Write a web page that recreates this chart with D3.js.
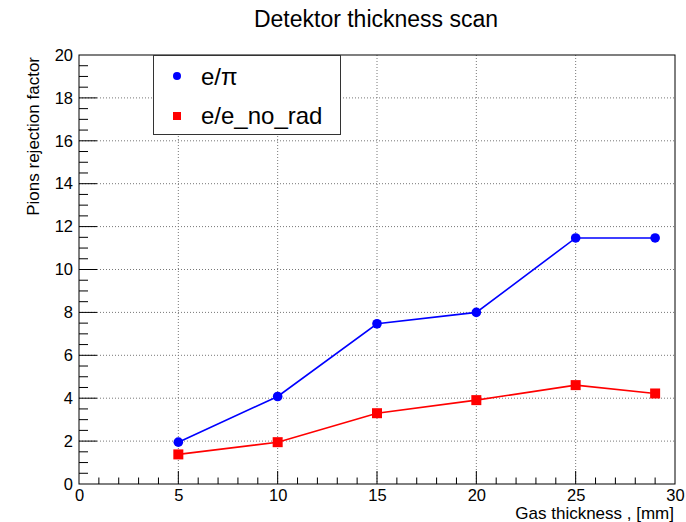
<!DOCTYPE html>
<html><head><meta charset="utf-8">
<script src="https://cdn.jsdelivr.net/npm/d3@7"></script>
<style>body{margin:0;background:#fff}svg{display:block}text{font-family:"Liberation Sans",Arial,sans-serif}</style>
</head><body>
<script>
const thickness = [5, 10, 15, 20, 25, 29];
const ePi = [1.95, 4.08, 7.47, 8.0, 11.47, 11.47];
const eNoRad = [1.38, 1.95, 3.3, 3.91, 4.61, 4.22];
const xTicks = [0, 5, 10, 15, 20, 25, 30];
const yTicks = [0, 2, 4, 6, 8, 10, 12, 14, 16, 18, 20];
const legendLabels = ["e/\u03c0", "e/e_no_rad"];

const W = 686, H = 522;
const m = {l: 79, r: 675, t: 55, b: 484};
const svg = d3.select("body").append("svg").attr("width", W).attr("height", H);
const x = d3.scaleLinear().domain([0, 30]).range([m.l, m.r]);
const y = d3.scaleLinear().domain([0, 20]).range([m.b, m.t]);

// grid
const g = svg.append("g");
g.selectAll(".gx").data(xTicks.slice(1, -1)).join("line")
  .attr("x1", d => x(d)).attr("x2", d => x(d)).attr("y1", m.t).attr("y2", m.b)
  .attr("stroke", "#777").attr("stroke-width", 1).attr("stroke-dasharray", "1,2");
g.selectAll(".gy").data(yTicks.slice(1, -1)).join("line")
  .attr("y1", d => y(d)).attr("y2", d => y(d)).attr("x1", m.l).attr("x2", m.r)
  .attr("stroke", "#777").attr("stroke-width", 1).attr("stroke-dasharray", "1,2");

// axes with ticks inside
const xMinor = d3.range(1, 30);
const yMinor = d3.range(0.5, 20, 0.5);
const ax = svg.append("g").attr("transform", `translate(0,${m.b})`)
  .call(d3.axisBottom(x).tickValues(xTicks).tickSize(0).tickPadding(5).tickFormat(d3.format("d")));
ax.select(".domain").remove();
ax.selectAll("text").attr("font-size", 16.5).attr("fill", "#000").attr("dy", "0.75em");
svg.append("g").selectAll("line").data(xMinor).join("line")
  .attr("x1", d => x(d)).attr("x2", d => x(d)).attr("y1", m.b)
  .attr("y2", d => m.b - (d % 5 === 0 ? 13 : 6.5)).attr("stroke", "#000");

const ay = svg.append("g").attr("transform", `translate(${m.l},0)`)
  .call(d3.axisLeft(y).tickValues(yTicks).tickSize(0).tickPadding(6).tickFormat(d3.format("d")));
ay.select(".domain").remove();
ay.selectAll("text").attr("font-size", 16.5).attr("fill", "#000");
svg.append("g").selectAll("line").data(yMinor).join("line")
  .attr("y1", d => y(d)).attr("y2", d => y(d)).attr("x1", m.l)
  .attr("x2", d => m.l + (d % 2 === 0 ? 18 : 9)).attr("stroke", "#000");

// frame
svg.append("rect").attr("x", m.l).attr("y", m.t).attr("width", m.r - m.l).attr("height", m.b - m.t)
  .attr("fill", "none").attr("stroke", "#000").attr("stroke-width", 1);

// lines
const line = (vals) => d3.line().x((d, i) => x(thickness[i])).y(d => y(d))(vals);
svg.append("path").attr("d", line(ePi)).attr("fill", "none").attr("stroke", "#0000ff").attr("stroke-width", 1.6);
svg.append("path").attr("d", line(eNoRad)).attr("fill", "none").attr("stroke", "#ff0000").attr("stroke-width", 1.6);
svg.append("g").selectAll("circle").data(ePi).join("circle")
  .attr("cx", (d, i) => x(thickness[i])).attr("cy", d => y(d)).attr("r", 4.8).attr("fill", "#0000ff");
svg.append("g").selectAll("rect").data(eNoRad).join("rect")
  .attr("x", (d, i) => x(thickness[i]) - 5).attr("y", d => y(d) - 5).attr("width", 10).attr("height", 10).attr("fill", "#ff0000");

// legend
const lg = svg.append("g");
lg.append("rect").attr("x", 153.5).attr("y", 55.5).attr("width", 187).attr("height", 79)
  .attr("fill", "#fff").attr("stroke", "#333").attr("stroke-width", 1);
lg.append("circle").attr("cx", 177).attr("cy", 76).attr("r", 4).attr("fill", "#0000ff");
lg.append("rect").attr("x", 173).attr("y", 112).attr("width", 8).attr("height", 8).attr("fill", "#ff0000");
lg.append("text").attr("x", 201).attr("y", 85).attr("font-size", 24).text(legendLabels[0]);
lg.append("text").attr("x", 201).attr("y", 124).attr("font-size", 24).text(legendLabels[1]);

// titles
svg.append("text").attr("x", 376).attr("y", 27).attr("text-anchor", "middle").attr("font-size", 23).text("Detektor thickness scan");
svg.append("text").attr("x", 674).attr("y", 519).attr("text-anchor", "end").attr("font-size", 17).text("Gas thickness , [mm]");
svg.append("text").attr("transform", `translate(39,57) rotate(-90)`).attr("text-anchor", "end").attr("font-size", 17).text("Pions rejection factor");
</script>
</body></html>
